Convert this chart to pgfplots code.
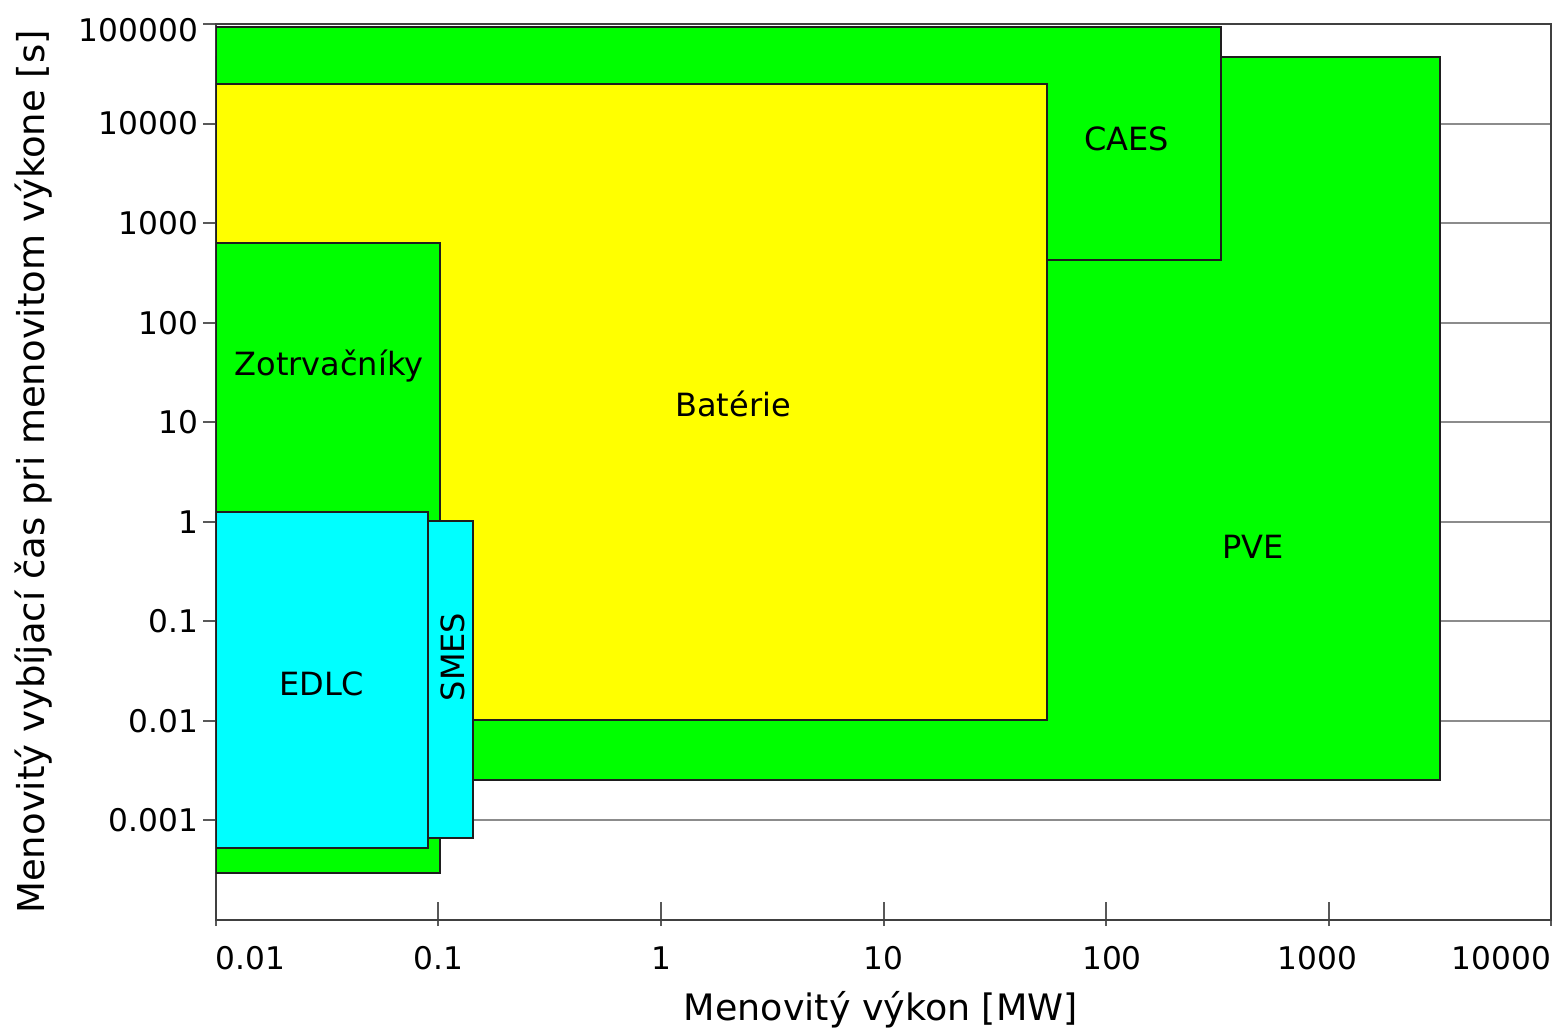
\documentclass[border=0pt]{standalone}
\usepackage{pgfplots}
\pgfplotsset{compat=1.18}
\usepackage{fontspec}
\setmainfont{DejaVu Sans}
\definecolor{lgreen}{HTML}{00FF00}
\definecolor{lyellow}{HTML}{FFFF00}
\definecolor{lcyan}{HTML}{00FFFF}
\definecolor{edge}{HTML}{1E1E1E}
\newcommand{\shiftx}[2]{\hspace*{#1}\makebox[0pt]{#2}\hspace*{-#1}}
\begin{document}
\begin{tikzpicture}
\path[use as bounding box] (0,0) rectangle (390.25pt,256.75pt);
\begin{axis}[
  at={(54pt,26.75pt)}, anchor=south west,
  scale only axis, width=333.75pt, height=224pt,
  xmode=log, ymode=log,
  xmin=0.01, xmax=10000, ymin=1e-4, ymax=1e5,
  xminorticks=false, yminorticks=false,
  xtick pos=bottom, ytick pos=left,
  axis line style={black!75, line width=0.5pt},
  ymajorgrids, grid style={black!45, line width=0.5pt},
  xtick={0.01,0.1,1,10,100,1000,10000},
  xticklabels={\makebox[0pt][l]{0.01},0.1,1,10,\shiftx{1.5pt}{100},\shiftx{-2.75pt}{1000},\makebox[0pt][r]{10000}},
  ytick={0.001,0.01,0.1,1,10,100,1000,10000,100000},
  yticklabels={0.001,0.01,0.1,1,10,100,1000,10000,\raisebox{-1.5pt}[\height][\depth]{100000}},
  tick align=outside, major tick length=3.25pt,
  tick style={black!65, line width=0.5pt},
  xtick style={yshift=1.75pt},
  extra x ticks={0.1,1,10,100,1000},
  extra x tick labels={},
  extra x tick style={every x tick/.style={black!65, line width=0.5pt, yshift=4.5pt}},
  ticklabel style={font=\fontsize{7.8}{9}\selectfont},
  xticklabel style={anchor=base, yshift=-9pt},
  yticklabel style={anchor=east, xshift=2.25pt},
  xlabel={Menovitý výkon [MW]},
  ylabel={Menovitý vybíjací čas pri menovitom výkone [s]},
  xlabel style={font=\fontsize{9.1}{11}\selectfont, at={(axis description cs:0.498,-0.1116)}, anchor=base},
  ylabel style={font=\fontsize{9.25}{11}\selectfont, at={(axis description cs:-0.1281,0.5)}, anchor=base},
  every axis plot/.append style={draw=edge, line width=0.5pt},
]
% PVE
\addplot[fill=lgreen] coordinates {(0.01,0.00255) (3170,0.00255) (3170,46600) (0.01,46600)} -- cycle;
% CAES
\addplot[fill=lgreen] coordinates {(0.01,430) (330,430) (330,93300) (0.01,93300)} -- cycle;
% Baterie
\addplot[fill=lyellow] coordinates {(0.01,0.0102) (54.3,0.0102) (54.3,24900) (0.01,24900)} -- cycle;
% Zotrvacniky
\addplot[fill=lgreen] coordinates {(0.01,0.000296) (0.1016,0.000296) (0.1016,631) (0.01,631)} -- cycle;
% EDLC
\addplot[fill=lcyan] coordinates {(0.01,0.00053) (0.0897,0.00053) (0.0897,1.25) (0.01,1.25)} -- cycle;
% SMES
\addplot[fill=lcyan] coordinates {(0.0897,0.000667) (0.143,0.000667) (0.143,1.02) (0.0897,1.02)} -- cycle;

\begin{scope}[every node/.style={font=\fontsize{8}{10}\selectfont, anchor=base, inner sep=0pt}]
\node at (axis cs:124,5420) {CAES};
\node at (axis cs:0.0322,29.8) {Zotrvačníky};
\node at (axis cs:2.107,11.29) {Batérie};
\node at (axis cs:458,0.423) {PVE};
\node at (axis cs:0.0299,0.018) {EDLC};
\node[rotate=90] at (axis cs:0.1315,0.0438) {SMES};
\end{scope}
\end{axis}
\end{tikzpicture}
\end{document}
